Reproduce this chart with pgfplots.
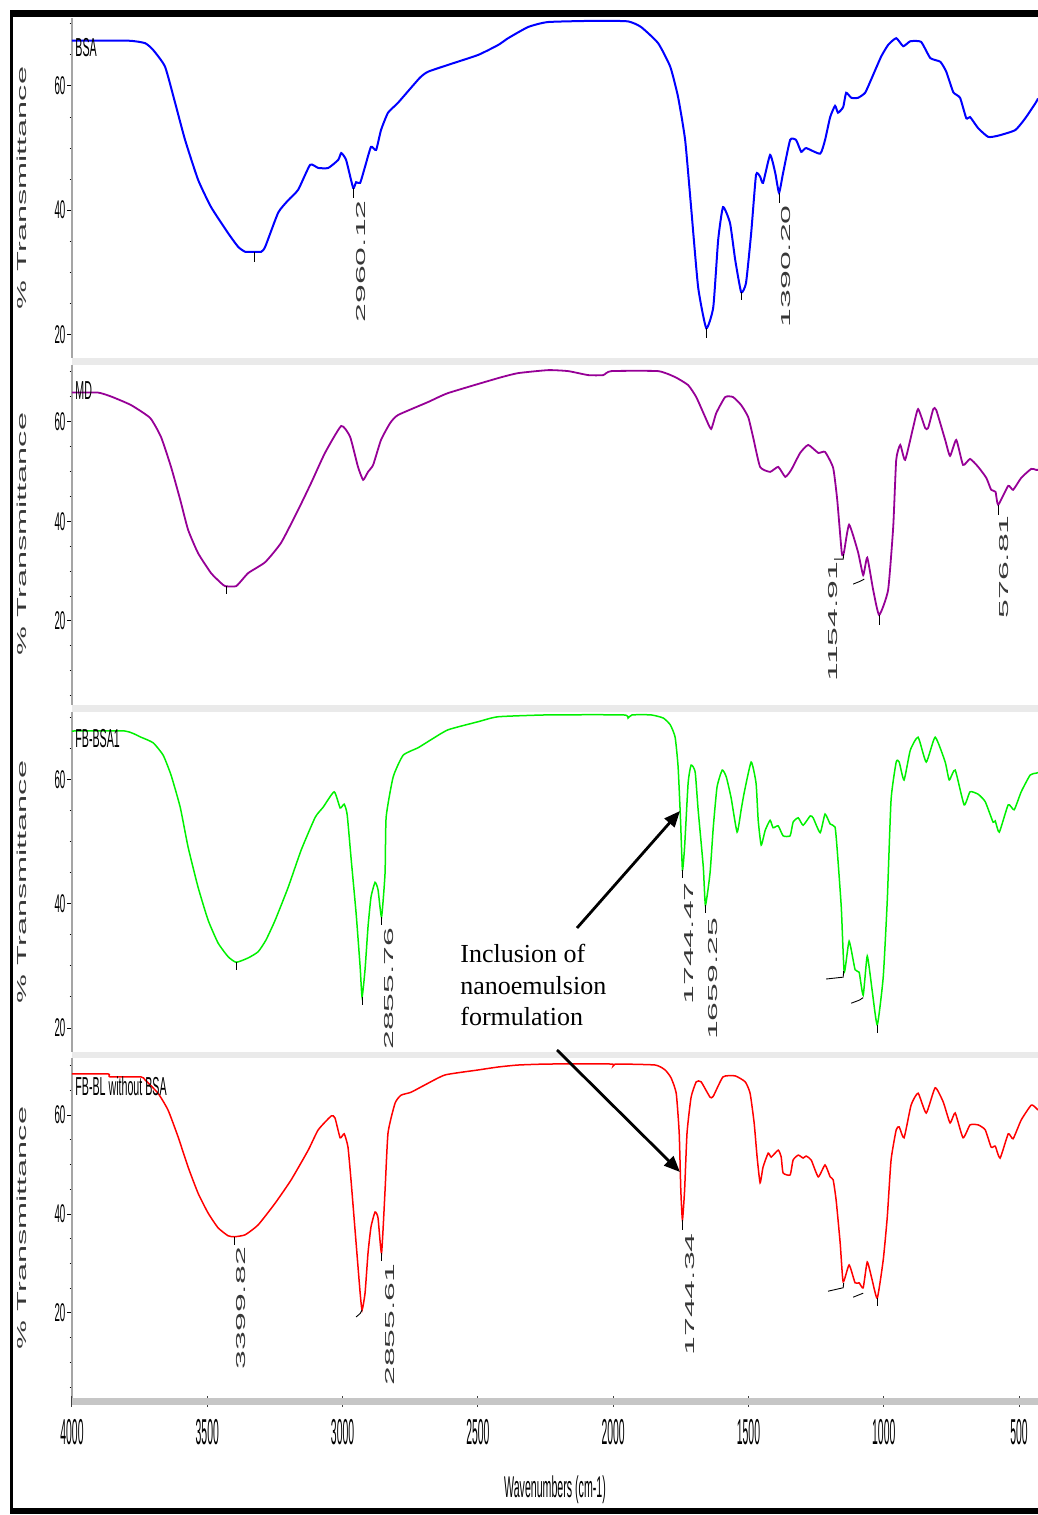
\documentclass[border=0pt]{standalone}
\usepackage{fontspec}
\setmainfont{Liberation Sans}
\newfontfamily\timesf{Liberation Serif}
\usepackage{graphicx}
\usepackage{pgfplots}
\usepackage{pgfplotstable}
\pgfplotsset{compat=1.18}
\usetikzlibrary{arrows.meta}

\definecolor{bsablue}{RGB}{0,0,255}
\definecolor{mdpurple}{RGB}{150,0,150}
\definecolor{fbgreen}{RGB}{0,240,0}
\definecolor{fbred}{RGB}{255,0,0}
\definecolor{sepgray}{RGB}{234,234,234}
\definecolor{axgray}{RGB}{165,165,165}
\definecolor{lblgray}{RGB}{55,55,55}

\pgfplotstableread{
wn T
4000 67.3
3793 67.3
3730 66.9
3700 65.8
3656 63.1
3619 57.3
3582 51.3
3534 44.9
3486 40.5
3423 36.3
3386 34.1
3360 33.3
3327 33.3
3301 33.3
3286 34.1
3238 39.6
3201 41.6
3164 43.3
3120 47.3
3090 46.8
3053 46.8
3016 48.1
3005 49.2
2987 48.1
2961 43.6
2950 44.5
2935 44.4
2917 47.0
2895 50.2
2876 49.7
2858 52.9
2832 55.7
2795 57.3
2715 61.3
2684 62.3
2610 63.4
2499 65.0
2425 66.6
2388 67.7
2314 69.5
2240 70.3
2056 70.5
1945 70.4
1897 69.5
1834 66.9
1789 63.1
1760 58.2
1734 51.3
1712 40.5
1686 27.6
1656 21.0
1630 24.4
1612 35.2
1594 40.5
1568 37.9
1549 32.0
1527 26.8
1509 28.3
1490 36.3
1472 45.7
1457 45.4
1446 44.4
1420 48.9
1401 46.0
1387 42.8
1372 46.0
1346 51.3
1324 51.3
1305 49.4
1287 50.0
1235 49.1
1217 51.3
1198 55.0
1180 56.8
1169 55.7
1150 56.6
1139 58.9
1120 58.1
1095 58.1
1069 58.9
1047 61.0
1010 64.7
984 66.6
954 67.7
928 66.4
902 67.2
862 67.1
828 64.5
791 63.9
769 62.3
743 59.0
718 58.1
695 54.8
681 55.0
651 53.2
614 51.8
577 52.0
514 52.9
477 54.8
437 57.4
430 58.0
}\bsa

\pgfplotstableread{
wn T
4000 65.8
3904 65.8
3855 65.0
3782 63.3
3711 60.7
3671 56.9
3634 50.9
3600 44.3
3571 38.3
3534 33.6
3486 29.6
3449 27.6
3434 27.0
3393 27.0
3349 29.6
3286 31.8
3227 35.7
3164 42.3
3116 47.7
3065 53.7
3005 59.1
2972 56.9
2943 50.9
2924 48.3
2906 49.9
2887 51.3
2858 56.3
2824 59.7
2795 61.3
2684 63.9
2610 65.7
2425 68.7
2351 69.7
2240 70.3
2166 70.1
2092 69.3
2037 69.3
2007 70.1
1834 70.1
1771 68.9
1723 67.3
1693 64.9
1660 60.9
1638 58.5
1619 61.7
1586 64.9
1557 64.9
1527 63.3
1501 60.9
1483 56.9
1457 50.9
1420 49.9
1390 50.9
1364 48.9
1342 50.3
1309 53.7
1279 55.3
1242 53.7
1217 53.9
1187 50.7
1172 44.3
1155 33.6
1147 33.8
1128 39.3
1095 33.8
1076 29.2
1061 32.7
1039 26.2
1017 21.2
984 26.2
965 38.9
954 52.3
939 55.3
921 52.3
891 58.9
873 62.5
847 58.7
836 58.7
817 62.5
806 62.3
773 56.3
755 53.1
732 56.3
707 51.3
681 52.5
651 50.9
621 48.7
603 46.3
587 45.9
577 43.3
540 47.1
522 46.3
492 48.7
455 50.5
437 50.3
430 50.3
}\md

\pgfplotstableread{
wn T
4000 67.9
3804 67.9
3745 66.9
3700 66.0
3663 64.0
3634 60.8
3600 55.6
3571 49.2
3534 42.7
3497 37.4
3460 33.7
3423 31.5
3393 30.6
3349 31.3
3312 32.3
3283 34.2
3249 37.4
3201 42.7
3153 48.7
3101 54.0
3072 55.6
3031 58.1
3009 55.5
2994 56.1
2983 54.4
2968 47.1
2950 38.5
2935 29.8
2928 25.0
2917 29.4
2906 36.3
2895 41.1
2880 43.5
2869 42.3
2856 37.9
2843 45.0
2839 54.0
2813 60.5
2776 64.0
2721 65.2
2673 66.5
2610 68.1
2499 69.4
2425 70.2
2240 70.5
1963 70.5
1945 70.0
1930 70.5
1860 70.5
1815 70.0
1789 68.9
1771 66.9
1760 62.1
1751 53.5
1744 45.5
1736 49.2
1723 59.5
1712 62.4
1697 61.3
1686 55.2
1667 46.0
1659 39.8
1642 45.0
1630 52.4
1616 58.9
1597 61.6
1582 60.5
1564 57.1
1542 51.6
1527 55.2
1516 57.9
1490 62.9
1472 59.5
1464 53.5
1453 49.5
1438 51.9
1420 53.5
1409 52.3
1390 52.6
1372 51.0
1346 51.0
1335 53.2
1316 53.9
1298 52.7
1272 54.2
1261 53.9
1235 51.5
1217 54.5
1198 52.9
1180 52.4
1172 48.7
1157 39.5
1146 29.0
1128 34.0
1106 29.4
1091 29.0
1076 25.3
1061 31.6
1043 26.1
1024 20.5
1002 28.2
987 40.6
973 56.8
954 62.9
943 62.9
925 60.0
902 64.8
873 66.9
843 62.9
810 66.9
773 62.9
758 60.0
736 61.6
703 56.0
681 58.1
651 57.7
625 56.5
596 53.2
588 53.4
573 51.6
540 56.0
518 55.2
492 58.1
459 60.8
437 61.1
430 61.2
}\fbbsa

\pgfplotstableread{
wn T
4000 68.3
3867 68.3
3859 67.7
3745 67.7
3730 67.1
3682 64.4
3645 61.0
3608 55.6
3571 49.5
3534 44.2
3497 40.2
3460 37.2
3423 35.6
3400 35.4
3360 35.8
3312 37.8
3249 42.2
3190 46.9
3127 52.9
3090 57.0
3042 59.8
3028 59.4
3009 55.4
2994 56.2
2980 53.5
2968 46.3
2950 34.1
2935 24.0
2928 20.6
2917 24.0
2906 32.1
2895 37.4
2880 40.4
2869 39.2
2856 32.1
2843 44.8
2832 56.4
2806 62.4
2784 64.0
2747 64.6
2695 66.1
2621 68.1
2499 69.1
2425 69.7
2351 70.1
2240 70.3
2007 70.3
2000 69.9
1989 70.3
1845 70.1
1808 69.1
1786 67.5
1767 64.4
1756 56.4
1750 44.8
1744 38.8
1736 44.8
1727 56.4
1712 63.6
1693 66.7
1675 66.7
1642 63.6
1630 63.8
1594 67.7
1549 67.9
1512 66.7
1494 64.4
1479 58.4
1468 51.5
1457 46.3
1446 49.5
1427 52.3
1416 51.5
1390 52.9
1379 51.5
1372 48.3
1346 47.9
1335 50.9
1316 51.9
1298 51.3
1287 51.7
1268 50.9
1242 47.5
1217 49.9
1198 47.5
1187 46.9
1176 42.8
1161 34.1
1150 26.3
1128 29.7
1106 26.1
1091 26.1
1076 25.1
1061 30.3
1043 26.7
1024 23.0
1002 30.7
987 39.4
973 50.9
954 57.0
943 57.6
925 55.4
899 62.0
873 64.4
843 60.4
810 65.5
780 62.6
755 58.4
736 60.4
707 55.4
681 58.0
651 58.0
625 57.0
603 53.5
588 53.7
570 51.3
540 56.2
522 55.2
492 59.0
455 62.0
437 61.4
430 61.0
}\fbbl

\pgfplotsset{
  panel/.style={
    scale only axis, width=483pt,
    xmin=430, xmax=4000, x dir=reverse,
    hide x axis,
    axis y line*=left,
    y axis line style={draw=axgray, line width=0.9pt},
    ytick={20,40,60},
    minor ytick={5,10,...,70},
    tick align=outside,
    major tick length=2.5pt, minor tick length=1.2pt,
    every tick/.style={black, line width=0.5pt},
    /pgf/number format/assume math mode=true,
    /pgf/number format/1000 sep={},
    yticklabel={\scalebox{0.38}[1]{\pgfmathprintnumber{\tick}}},
    yticklabel style={anchor=east, inner sep=0.6pt, font=\fontsize{12.8}{12.8}\selectfont},
    clip=false,
  },
}
\tikzset{
  peak/.style={rotate=90, anchor=east, inner sep=0pt, text=lblgray, font=\fontsize{6.5}{6.5}\selectfont},
  mk/.style={black, line width=0.45pt},
}
\newcommand\pk[1]{\scalebox{2.6}[1]{#1}}

\begin{document}
\begin{tikzpicture}
% separator bands
\fill[sepgray] (36pt,575pt) rectangle (519pt,578.5pt);
\fill[sepgray] (36pt,401.5pt) rectangle (519pt,405pt);
\fill[sepgray] (36pt,228.5pt) rectangle (519pt,231.5pt);

% Panel 1: BSA
\begin{axis}[panel, at={(36pt,578.5pt)}, anchor=south west, height=170pt,
  ymin=16.2, ymax=70.95]
\addplot[bsablue, line width=1pt, smooth, tension=0.3] table[x=wn,y=T] {\bsa};
\draw[mk] (axis cs:3327,33.3) -- ++(0pt,-5pt);
\draw[mk] (axis cs:2961,43.6) -- ++(0pt,-5pt);
\draw[mk] (axis cs:1656,21.0) -- ++(0pt,-5pt);
\draw[mk] (axis cs:1527,26.8) -- ++(0pt,-4pt);
\draw[mk] (axis cs:1387,42.8) -- ++(0pt,-5pt);
\node[xshift=4pt, yshift=-6pt, peak] at (axis cs:2961,43.6) {\pk{2960.12}};
\node[xshift=3.5pt, yshift=-6pt, peak] at (axis cs:1387,42.8) {\pk{1390.20}};
\end{axis}

% Panel 2: MD
\begin{axis}[panel, at={(36pt,405pt)}, anchor=south west, height=170pt,
  ymin=3.16, ymax=71.33]
\addplot[mdpurple, line width=0.9pt, smooth, tension=0.3] table[x=wn,y=T] {\md};
\draw[mk] (axis cs:3430,27.0) -- ++(0pt,-4pt);
\draw[mk] (axis cs:1017,21.2) -- ++(0pt,-5pt);
\draw[mk] (axis cs:577,43.3) -- ++(0pt,-5pt);
\draw[mk] (axis cs:1183,32.4) -- (axis cs:1150,32.4) -- (axis cs:1148,33.4);
\draw[mk] (axis cs:1113,27.4) -- (axis cs:1090,27.9) -- (axis cs:1072,28.4);
\node[xshift=-4.5pt, yshift=-4pt, peak] at (axis cs:1155,33.6) {\pk{1154.91}};
\node[xshift=3pt, yshift=-5pt, peak] at (axis cs:577,43.3) {\pk{576.81}};
\end{axis}

% Panel 3: FB-BSA1
\begin{axis}[panel, at={(36pt,231.5pt)}, anchor=south west, height=170pt,
  ymin=16.13, ymax=70.97]
\addplot[fbgreen, line width=0.75pt, smooth, tension=0.3] table[x=wn,y=T] {\fbbsa};
\draw[mk] (axis cs:3393,30.6) -- ++(0pt,-4pt);
\draw[mk] (axis cs:2928,25.0) -- ++(0pt,-4pt);
\draw[mk] (axis cs:2856,37.9) -- ++(0pt,-4pt);
\draw[mk] (axis cs:1744,45.5) -- ++(0pt,-4pt);
\draw[mk] (axis cs:1659,39.8) -- ++(0pt,-4pt);
\draw[mk] (axis cs:1024,20.5) -- ++(0pt,-4pt);
\draw[mk] (axis cs:1213,27.9) -- (axis cs:1150,28.2) -- (axis cs:1148,29.2);
\draw[mk] (axis cs:1120,24.0) -- (axis cs:1090,24.5) -- (axis cs:1076,24.9);
\node[xshift=3.5pt, yshift=-5pt, peak] at (axis cs:2856,37.9) {\pk{2855.76}};
\node[xshift=3.5pt, yshift=-6pt, peak] at (axis cs:1744,45.5) {\pk{1744.47}};
\node[xshift=4pt, yshift=-6pt, peak] at (axis cs:1659,39.8) {\pk{1659.25}};
\end{axis}

% Panel 4: FB-BL without BSA
\begin{axis}[panel, at={(36pt,56.75pt)}, anchor=south west, height=171.75pt,
  ymin=2.12, ymax=71.52]
\addplot[fbred, line width=0.75pt, smooth, tension=0.3] table[x=wn,y=T] {\fbbl};
\draw[mk] (axis cs:3400,35.4) -- ++(0pt,-4pt);
\draw[mk] (axis cs:2856,32.1) -- ++(0pt,-4pt);
\draw[mk] (axis cs:1744,38.8) -- ++(0pt,-5pt);
\draw[mk] (axis cs:1024,23.0) -- ++(0pt,-4pt);
\draw[mk] (axis cs:2950,19.2) -- (axis cs:2935,19.9) -- (axis cs:2928,20.6);
\draw[mk] (axis cs:1206,24.4) -- (axis cs:1150,25.1) -- (axis cs:1148,26.1);
\draw[mk] (axis cs:1113,23.2) -- (axis cs:1090,23.7) -- (axis cs:1076,24.0);
\node[xshift=3.5pt, yshift=-5pt, peak] at (axis cs:3400,35.4) {\pk{3399.82}};
\node[xshift=4pt, yshift=-5pt, peak] at (axis cs:2856,32.1) {\pk{2855.61}};
\node[xshift=4pt, yshift=-6.5pt, peak] at (axis cs:1744,38.8) {\pk{1744.34}};
\end{axis}

% x axis
\begin{axis}[scale only axis, width=483pt, height=171.75pt,
  at={(36pt,56.75pt)}, anchor=south west,
  xmin=430, xmax=4000, x dir=reverse, ymin=0, ymax=1,
  hide y axis, axis x line*=bottom,
  x axis line style={draw=gray!45, line width=3.5pt},
  xtick={500,1000,...,4000},
  minor xtick={500,600,...,4000},
  tick align=center,
  major tick length=5pt, minor tick length=3pt,
  every tick/.style={black!75, line width=0.5pt},
  /pgf/number format/assume math mode=true,
  /pgf/number format/1000 sep={},
  xticklabel={\scalebox{0.29}[1]{\pgfmathprintnumber{\tick}}},
  xticklabel style={anchor=north, inner sep=0pt, yshift=-6pt, font=\fontsize{18}{18}\selectfont},
]
\end{axis}

% y labels
\foreach \yy in {663.5,490.5,316.5,143.5}{
  \node[rotate=90, text=lblgray, font=\fontsize{6.5}{6.5}\selectfont] at (11pt,\yy pt) {\scalebox{2.5}[1]{\% Transmittance}};
}
% panel names
\node[anchor=west, inner sep=0pt, font=\fontsize{13}{13}\selectfont] at (37.5pt,733.5pt) {\scalebox{0.41}[1]{BSA}};
\node[anchor=west, inner sep=0pt, font=\fontsize{13}{13}\selectfont] at (37.5pt,562pt) {\scalebox{0.41}[1]{MD}};
\node[anchor=west, inner sep=0pt, font=\fontsize{13}{13}\selectfont] at (37.5pt,388pt) {\scalebox{0.41}[1]{FB-BSA1}};
\node[anchor=west, inner sep=0pt, font=\fontsize{13}{13}\selectfont] at (37.5pt,214.5pt) {\scalebox{0.41}[1]{FB-BL without BSA}};

% x label
\node[font=\fontsize{15}{15}\selectfont] at (277.5pt,12.5pt) {\scalebox{0.354}[1]{Wavenumbers (cm-1)}};

% annotation
\node[anchor=base west, inner sep=0pt, font=\timesf\fontsize{13}{13}\selectfont] at (230pt,276pt) {Inclusion of};
\node[anchor=base west, inner sep=0pt, font=\timesf\fontsize{13}{13}\selectfont] at (230pt,260pt) {nanoemulsion};
\node[anchor=base west, inner sep=0pt, font=\timesf\fontsize{13}{13}\selectfont] at (230pt,244.5pt) {formulation};
\draw[black, line width=1.4pt, -{Triangle[length=8pt,width=6.5pt]}] (288.5pt,293.5pt) -- (340pt,352pt);
\draw[black, line width=1.4pt, -{Triangle[length=8pt,width=6.5pt]}] (278.5pt,232.5pt) -- (340pt,171.5pt);

% outer frame
\fill[black] (5pt,749pt) rectangle (519pt,752.5pt);
\fill[black] (5pt,0.5pt) rectangle (6.5pt,752.5pt);
\fill[black] (5pt,0.5pt) rectangle (519pt,3.5pt);

\pgfresetboundingbox
\path[use as bounding box] (0pt,0pt) rectangle (519pt,757.5pt);
\end{tikzpicture}
\end{document}
